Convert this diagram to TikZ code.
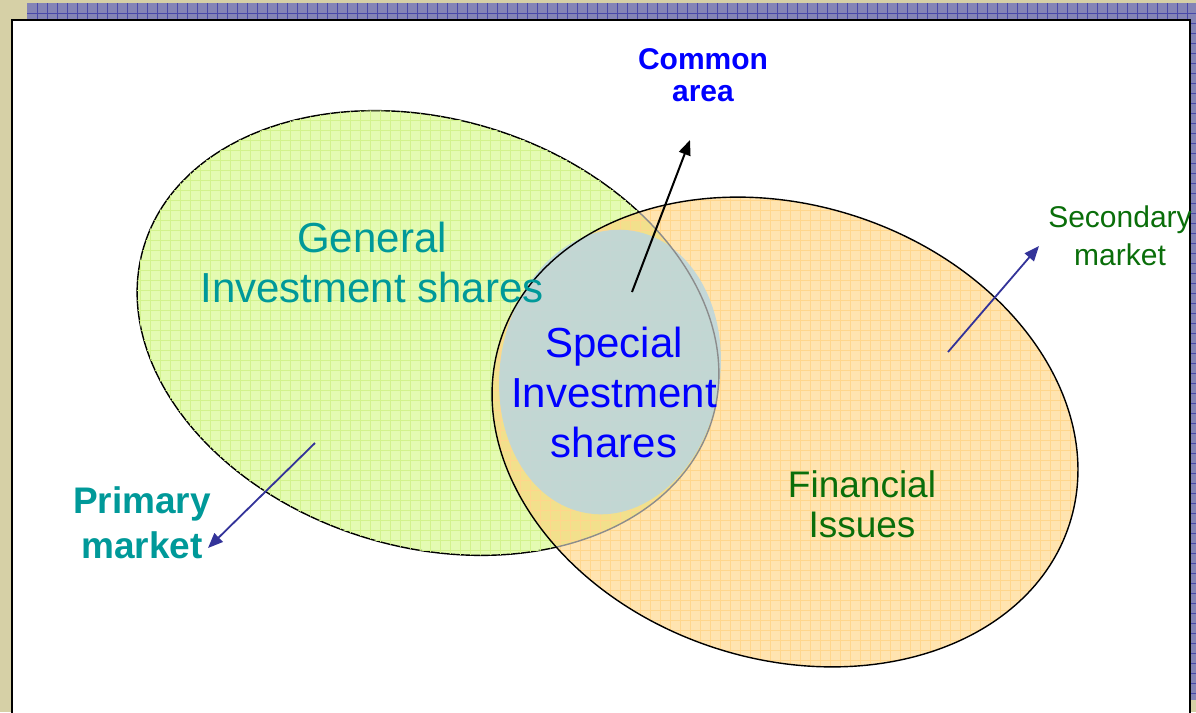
\documentclass[tikz,border=0pt]{standalone}
\usepackage{fontspec}
\setmainfont{Liberation Sans}
\usetikzlibrary{arrows.meta}
\definecolor{khaki}{RGB}{214,208,166}
\definecolor{band}{RGB}{132,132,182}
\definecolor{bandline}{RGB}{72,72,170}
\definecolor{gfill}{RGB}{228,251,178}
\definecolor{ggrid}{RGB}{210,242,140}
\definecolor{ofill}{RGB}{255,228,176}
\definecolor{ogrid}{RGB}{255,214,140}
\definecolor{ovfill}{RGB}{242,224,140}
\definecolor{bfill}{RGB}{186,214,224}
\definecolor{tealtxt}{RGB}{0,153,153}
\definecolor{bluetxt}{RGB}{0,0,255}
\definecolor{greentxt}{RGB}{10,110,10}
\definecolor{arrowblue}{RGB}{51,51,153}
\begin{document}
\begin{tikzpicture}[x=1pt,y=-1pt,
  gE/.style={rotate around={-17:(428,333)}},
  gpath/.style={insert path={(428,333) ellipse [x radius=297, y radius=214]}},
  oE/.style={rotate around={-18:(785,432)}},
  opath/.style={insert path={(785,432) ellipse [x radius=299, y radius=227]}},
  bE/.style={rotate around={-9:(610,372)}},
  bpath/.style={insert path={(610,372) ellipse [x radius=110, y radius=143]}},
  lbl/.style={align=center, inner sep=0pt, anchor=base},
  bluearrow/.style={draw=arrowblue, line width=1.8pt, -{Triangle[length=15pt,width=12pt]}},
  blackarrow/.style={draw=black, line width=2pt, -{Triangle[length=15pt,width=12pt]}}
]
\useasboundingbox (0,0) rectangle (1196,712);
% background
\fill[khaki] (0,0) rectangle (1196,712);
\fill[band] (27,3) rectangle (1196,19);
\fill[band] (1190,3) rectangle (1196,700);
\foreach \x in {37,47,...,1187} \draw[bandline, line width=0.6pt] (\x,3) -- (\x,19);
\draw[bandline, line width=0.6pt] (27,13) -- (1196,13);
\foreach \y in {23,33,...,693} \draw[bandline, line width=0.6pt] (1191,\y) -- (1196,\y);
% panel
\fill[white] (11,19) rectangle (1191,712);
\draw[line width=2pt] (12,714) -- (12,20) -- (1190,20) -- (1190,714);
% green ellipse
\fill[gfill, gE, gpath];
\draw[line width=1.4pt, gE, gpath];
% orange ellipse
\fill[ofill, oE, opath];
\begin{scope}
  \clip[gE, gpath];
  \fill[ovfill, oE, opath];
\end{scope}
% grids
\begin{scope}
  \clip[gE, gpath];
  \foreach \x in {130,140,...,730} \draw[ggrid, line width=0.6pt] (\x,100) -- (\x,560);
  \foreach \y in {100,110,...,560} \draw[ggrid, line width=0.6pt] (130,\y) -- (730,\y);
\end{scope}
\begin{scope}
  \clip[oE, opath];
  \foreach \x in {480,490,...,1090} \draw[ogrid, line width=0.6pt] (\x,190) -- (\x,680);
  \foreach \y in {190,200,...,680} \draw[ogrid, line width=0.6pt] (480,\y) -- (1090,\y);
\end{scope}
% special ellipse
\fill[bfill, fill opacity=0.85, bE, bpath];
% outlines
\begin{scope}
  \clip[oE, opath];
  \draw[black!45, line width=1.4pt, gE, gpath];
\end{scope}
\draw[line width=1.4pt, oE, opath];
% labels (base = baseline of last line)
\node[lbl, text=tealtxt, font=\fontsize{42}{50}\selectfont] (gen) at (372,302) {General\\Investment shares};
\node[lbl, text=bluetxt, font=\fontsize{42}{50}\selectfont] (spec) at (614,457) {Special\\Investment\\shares};
\node[lbl, text=greentxt, font=\fontsize{37}{40}\selectfont] (fin) at (862,537) {Financial\\Issues};
\node[lbl, text=greentxt, font=\fontsize{30}{38}\selectfont] (sec) at (1120,265) {Secondary\\market};
\node[lbl, text=tealtxt, font=\bfseries\fontsize{37}{45}\selectfont] (prim) at (142,558) {Primary\\market};
\node[lbl, text=bluetxt, font=\bfseries\fontsize{30}{32}\selectfont] (common) at (703,101) {Common\\area};
% arrows
\coordinate (caS) at (632,292);
\coordinate (caT) at (690,140);
\coordinate (pmS) at (315,443);
\coordinate (pmT) at (208,548);
\coordinate (smS) at (948,352);
\coordinate (smT) at (1039,246);
\draw[blackarrow] (caS) -- (caT);
\draw[bluearrow] (pmS) -- (pmT);
\draw[bluearrow] (smS) -- (smT);
\end{tikzpicture}
\end{document}
